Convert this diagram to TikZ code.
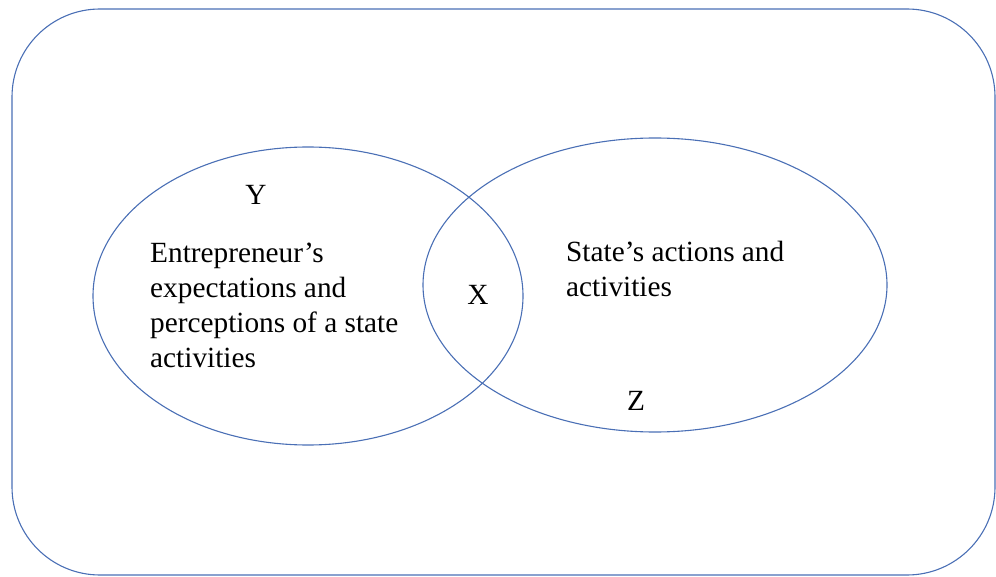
\documentclass[tikz,border=0pt]{standalone}
\usepackage{fontspec}
\setmainfont{Liberation Serif}
\usetikzlibrary{shapes.geometric}
\definecolor{vennblue}{HTML}{4A6FB5}
\tikzset{
  vennline/.style={draw=vennblue, line width=1.1pt},
  venn/.style={vennline, ellipse, inner sep=0pt},
  lbl/.style={font=\fontsize{29.3}{35}\selectfont, inner sep=0pt, text=black},
}
\begin{document}
\begin{tikzpicture}[x=1pt, y=-1pt]
\useasboundingbox (0,0) rectangle (996,577);
\node[vennline, rectangle, rounded corners=88pt, minimum width=983pt, minimum height=566pt, inner sep=0pt] (frame) at (503.5,292) {};
\node[venn, minimum width=430pt, minimum height=298pt] (left) at (308,296) {};
\node[venn, minimum width=464pt, minimum height=294pt] (right) at (655,285) {};
\node[lbl] (y) at (256,195) {Y};
\node[lbl] (x) at (478,295) {X};
\node[lbl] (z) at (636,401) {Z};
\node[lbl, align=left, anchor=base west] (ltext) at (150,367) {Entrepreneur’s\\expectations and\\perceptions of a state\\activities};
\node[lbl, align=left, anchor=base west] (rtext) at (566,297) {State’s actions and\\activities};
\end{tikzpicture}
\end{document}
